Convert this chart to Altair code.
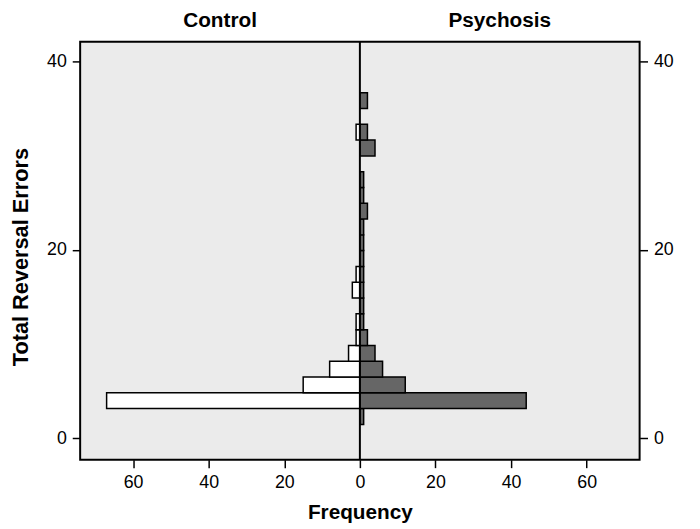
import altair as alt
import pandas as pd

# Histogram bins (Total Reversal Errors)
bin_lo = [1.47, 3.15, 4.82, 6.50, 8.18, 9.85, 11.53, 13.21, 14.88, 16.56, 18.24,
          19.92, 21.59, 23.27, 24.94, 26.62, 28.30, 29.97, 31.65, 33.33, 35.00]
bin_hi = [3.15, 4.82, 6.50, 8.18, 9.85, 11.53, 13.21, 14.88, 16.56, 18.24, 19.92,
          21.59, 23.27, 24.94, 26.62, 28.30, 29.97, 31.65, 33.33, 35.00, 36.68]
control = [0, 67, 15, 8, 3, 1, 1, 0, 2, 1, 0, 0, 0, 0, 0, 0, 0, 0, 1, 0, 0]
psychosis = [1, 44, 12, 6, 4, 2, 1, 1, 1, 1, 1, 1, 1, 2, 1, 1, 0, 4, 2, 0, 2]
groups = ["Control", "Psychosis"]
x_ticks = [-60, -40, -20, 0, 20, 40, 60]
y_ticks = [0, 20, 40]

XMAX = 74
x_dom = [-XMAX, XMAX]
y_dom = [-2.28, 42.1]

rows = []
for lo, hi, c, p in zip(bin_lo, bin_hi, control, psychosis):
    if c:
        rows.append({"group": "Control", "lo": lo, "hi": hi, "start": 0, "end": -c})
    if p:
        rows.append({"group": "Psychosis", "lo": lo, "hi": hi, "start": 0, "end": p})
df = pd.DataFrame(rows)
ctrl_df = df[df.group == "Control"]
psy_df = df[df.group == "Psychosis"]
head_df = pd.DataFrame({"label": groups, "hx": [-XMAX / 2, XMAX / 2]})
zero_df = pd.DataFrame({"x": [0]})

FONT = "Liberation Sans, Arial, Helvetica, sans-serif"
W, H = 566, 423

xs = alt.Scale(domain=x_dom, nice=False, zero=False)
ys = alt.Scale(domain=y_dom, nice=False, zero=False)

xaxis = alt.Axis(values=x_ticks, labelExpr="abs(datum.value)", title="Frequency",
                 grid=False, domain=False, tickSize=8, tickColor="black", tickWidth=1.5,
                 labelFont=FONT, labelFontSize=18, labelColor="black", labelPadding=6,
                 titleFont=FONT, titleFontSize=21, titleFontWeight="bold",
                 titleColor="black", titleY=59, titleBaseline="alphabetic")

def yaxis(orient, title):
    kw = dict(orient=orient, values=y_ticks, grid=False, domain=False, tickSize=8,
              tickColor="black", tickWidth=1.5, labelFont=FONT, labelFontSize=18,
              labelColor="black", labelPadding=6)
    if title:
        kw.update(title=title, titleFont=FONT, titleFontSize=22, titleFontWeight="bold",
                  titleColor="black", titleX=-60, titleY=H / 2 + 6, titleBaseline="middle",
                  titleAngle=270)
    else:
        kw.update(title=None)
    return alt.Axis(**kw)

fill = alt.Color("group:N", scale=alt.Scale(domain=groups, range=["white", "#666666"]),
                 legend=None)

ctrl = alt.Chart(ctrl_df).mark_rect(stroke="black", strokeWidth=1.5).encode(
    x=alt.X("start:Q", scale=xs, axis=xaxis),
    x2="end:Q",
    y=alt.Y("lo:Q", scale=ys, axis=yaxis("left", "Total Reversal Errors")),
    y2="hi:Q",
    fill=fill,
)
psy = alt.Chart(psy_df).mark_rect(stroke="black", strokeWidth=1.5).encode(
    x=alt.X("start:Q", scale=xs, axis=xaxis),
    x2="end:Q",
    y=alt.Y("lo:Q", scale=ys, axis=yaxis("right", None)),
    y2="hi:Q",
    fill=fill,
)
center = alt.Chart(zero_df).mark_rule(color="black", strokeWidth=2).encode(
    x=alt.X("x:Q", scale=xs, axis=xaxis)
)
heads = alt.Chart(head_df).mark_text(font=FONT, fontSize=21, fontWeight="bold",
                                     color="black", baseline="alphabetic").encode(
    x=alt.X("hx:Q", scale=xs, axis=xaxis),
    y=alt.value(-15),
    text="label:N",
)

chart = alt.layer(ctrl, psy, center, heads).resolve_axis(y="independent").properties(
    width=W, height=H,
    autosize=alt.AutoSizeParams(type="none"),
    padding={"left": 73, "top": 31, "right": 53, "bottom": 65},
    background="white",
).configure_view(stroke="black", strokeWidth=2, fill="#ebebeb")

chart.save("out.html", embed_options={"renderer": "svg", "actions": False})
